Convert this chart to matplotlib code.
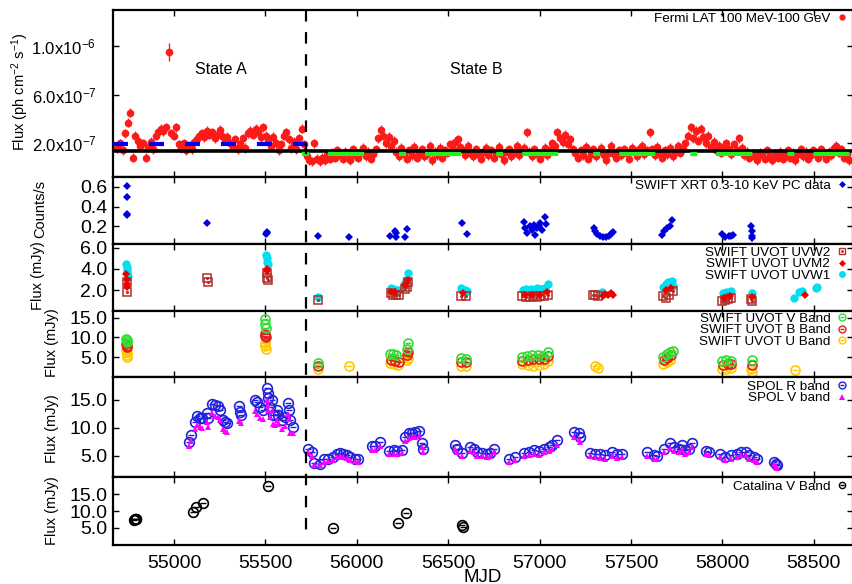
import numpy as np
import matplotlib
matplotlib.use("Agg")
import matplotlib.pyplot as plt
from matplotlib.lines import Line2D
import matplotlib.transforms as mtransforms

plt.rcParams['font.family'] = ['Liberation Sans', 'DejaVu Sans']
plt.rcParams['mathtext.fontset'] = 'custom'
plt.rcParams['mathtext.rm'] = 'Liberation Sans'
plt.rcParams['mathtext.default'] = 'regular'
plt.rcParams['lines.scale_dashes'] = False

# ---------------- DATA ----------------
# Fermi LAT 100 MeV-100 GeV, 14-day bins (flux in units of 1e-7 ph cm^-2 s^-1)
FERMI_START = 54690
FERMI_BIN = 14
fermi_flux_A = [1.6, 2.0, 1.4, 2.8, 3.7, 4.5, 0.8, 2.6, 2.2, 1.8,
                2.0, 0.8, 1.7, 2.1, 1.5, 2.6, 2.9, 3.2, 3.0, 3.3,
                9.5, 2.8, 2.6, 3.3, 1.9, 1.6, 2.0, 1.4, 1.8, 1.5,
                2.1, 2.3, 2.6, 2.8, 2.5, 3.0, 2.7, 2.9, 2.4, 2.7,
                3.1, 2.6, 2.2, 2.5, 2.0, 1.7, 2.3, 1.5, 1.9, 2.4,
                1.6, 2.8, 3.0, 2.7, 3.2, 2.9, 2.5, 3.3, 2.6, 2.2,
                1.8, 2.5, 2.0, 1.4, 1.9, 2.6, 2.9, 2.3, 1.6, 2.1,
                1.5, 2.4, 3.2, 1.9]
fermi_flux_B = [0.9, 0.6, 0.5, 2.0, 0.7, 0.5, 0.8, 0.6, 1.0, 0.7,
                1.2, 0.8, 1.4, 1.0, 0.7, 1.3, 1.1, 0.6, 1.5, 1.0,
                0.8, 1.2, 1.6, 0.9, 1.3, 0.7, 1.1, 1.5,
                2.4, 3.1, 2.6, 2.0, 2.5, 1.8, 2.2,
                1.3, 0.9, 1.6, 1.1, 0.7, 1.4, 1.0, 1.7, 0.8, 1.2,
                1.5, 0.9, 1.1, 1.8, 0.6, 1.3, 1.0, 1.6, 0.8, 1.4,
                1.2, 1.9, 1.5, 2.1, 2.3, 1.7, 1.4, 1.0, 1.8, 1.2,
                0.9, 1.5, 1.1, 0.7, 1.3, 1.6, 1.0, 1.4, 0.8, 1.2,
                1.7, 1.1, 0.6, 1.3, 1.5, 0.9, 1.2, 1.8, 1.0, 1.4,
                1.6, 2.9, 1.3, 0.9, 1.5, 1.1, 0.7, 1.2, 1.6, 1.0,
                1.4, 2.0, 1.8, 2.9, 2.4, 2.1, 2.7, 1.9, 2.3, 1.5,
                1.2, 0.8, 1.4, 1.0, 1.7, 0.7, 1.1, 1.5, 0.9, 1.3,
                1.6, 1.0, 0.6, 1.2, 1.8, 1.1, 0.8, 1.4, 1.0, 1.5,
                1.2, 0.7, 1.6, 1.3, 0.9, 1.5, 1.8, 1.1, 1.4, 2.9,
                1.5, 1.0, 1.7, 1.2, 0.8, 1.4, 1.1, 1.6, 0.9, 1.3,
                1.8, 1.2, 1.5, 2.0, 2.6, 3.3, 2.4, 3.0, 2.2, 3.2,
                2.5, 2.0, 2.6, 1.7, 2.1, 1.4, 1.8, 1.2, 1.6, 2.0,
                1.5, 1.1, 1.9, 1.4, 2.4, 1.6, 1.0, 1.3, 0.8, 1.1,
                0.9, 0.6, 1.2, 1.0, 0.7, 1.4, 0.9, 0.6, 1.1, 0.8,
                1.3, 0.7, 1.0, 1.4, 0.8, 1.2, 0.6, 1.1, 1.5, 0.9,
                1.3, 0.7, 1.0, 1.4, 1.2, 0.8, 1.5, 1.1, 0.7, 1.3,
                1.0, 1.6, 1.8, 1.2, 1.5, 0.8, 1.1, 0.6]
fermi_mean_all = 1.31      # black line
fermi_mean_A = 1.94        # blue dashes
fermi_mean_B = 1.06        # green dashes
STATE_SPLIT = 55720
mjd_min, mjd_max = 54666, 58715

# SWIFT XRT counts/s
xrt_mjd = [54741, 54741, 54741, 54741, 55182, 55505, 55508, 55511,
           55785, 55960, 56179, 56210, 56213, 56216, 56265, 56272,
           56575, 56602,
           56913, 56922, 56931, 56950, 56959, 56968, 56977, 56986, 56995, 57004, 57013, 57032, 57037,
           57296, 57305, 57316, 57333, 57349, 57366, 57382, 57393, 57404,
           57671, 57683, 57700, 57716, 57725,
           57999, 58017, 58034, 58050, 58061,
           58158, 58160, 58160, 58162]
xrt_rate = [0.605, 0.495, 0.325, 0.31, 0.233, 0.12, 0.14, 0.13,
            0.103, 0.09, 0.106, 0.157, 0.13, 0.09, 0.095, 0.17,
            0.233, 0.12,
            0.239, 0.18, 0.13, 0.198, 0.164, 0.215, 0.113, 0.18, 0.198, 0.233, 0.164, 0.294, 0.223,
            0.18, 0.154, 0.123, 0.103, 0.092, 0.092, 0.103, 0.123, 0.144,
            0.113, 0.147, 0.18, 0.198, 0.267,
            0.123, 0.092, 0.103, 0.103, 0.113,
            0.198, 0.147, 0.103, 0.085]

# SWIFT UVOT UV bands (mJy)
uvw2_mjd = [54742, 54744, 55180, 55184, 55507, 55510, 55512, 55785,
            56185, 56200, 56215, 56230, 56262, 56272, 56282, 56570, 56600,
            56905, 56925, 56945, 56965, 56985, 57005, 57025, 57045,
            57290, 57305, 57320, 57675, 57690, 57710, 57730,
            58000, 58015, 58030, 58050, 58158, 58162]
uvw2_flux = [2.8, 1.87, 3.13, 2.75, 3.6, 3.2, 2.97, 1.09,
             1.7, 1.6, 1.55, 1.58, 2.1, 2.3, 2.75, 1.5, 1.45,
             1.45, 1.4, 1.35, 1.42, 1.38, 1.45, 1.5, 1.6,
             1.6, 1.55, 1.5, 1.5, 1.25, 1.6, 1.9,
             1.0, 1.1, 1.2, 1.3, 1.2, 1.0]
uvm2_mjd = [54739, 54741, 54743, 54745, 55507, 55511,
            56185, 56210, 56265, 56278, 56580,
            56920, 56960, 57000, 57040,
            57345, 57360, 57375, 57390, 57400,
            57690, 57720, 58010, 58040, 58160, 58455]
uvm2_flux = [3.5, 3.0, 2.6, 2.3, 4.0, 3.8,
             1.85, 1.8, 2.5, 3.0, 1.7,
             1.55, 1.6, 1.6, 1.8,
             1.5, 1.65, 1.55, 1.7, 1.6,
             2.0, 2.2, 1.3, 1.45, 1.4, 1.56]
uvw1_mjd = [54738, 54740, 54742, 54744, 54746, 55505, 55508, 55510, 55512, 55785,
            56185, 56200, 56215, 56225, 56260, 56270, 56280, 56570, 56590, 56605,
            56910, 56925, 56940, 56955, 56970, 56985, 57000, 57015, 57030, 57045,
            57340, 57675, 57690, 57705, 57715, 57725, 57732,
            58005, 58020, 58035, 58050, 58160,
            58391, 58419, 58437, 58510, 58516]
uvw1_flux = [4.5, 4.2, 3.9, 3.6, 3.3, 5.3, 5.0, 4.7, 4.5, 1.4,
             2.2, 2.1, 2.05, 2.0, 2.6, 3.0, 3.6, 2.2, 2.05, 1.95,
             2.0, 2.1, 2.0, 2.15, 2.05, 2.2, 2.1, 2.15, 2.2, 2.6,
             1.8, 2.3, 2.6, 2.8, 2.5, 2.9, 2.4,
             1.7, 1.8, 1.85, 1.9, 1.75,
             1.25, 1.87, 1.93, 2.19, 2.34]

# SWIFT UVOT optical bands (mJy)
uv_v_mjd = [54739, 54741, 54743, 55497, 55499, 55501, 55785,
            56180, 56200, 56215, 56275, 56280, 56570, 56600,
            56905, 56930, 56960, 56990, 57020, 57045,
            57675, 57695, 57715, 57730, 58000, 58020, 58045, 58160]
uv_v_flux = [9.7, 9.3, 8.9, 14.6, 13.5, 12.3, 3.55,
             5.9, 5.7, 5.5, 7.0, 8.5, 4.7, 4.6,
             5.0, 5.3, 5.5, 5.6, 5.4, 6.3,
             5.0, 5.8, 6.4, 6.6, 4.0, 4.2, 4.1, 4.2]
uv_b_mjd = [54739, 54741, 54743, 55497, 55500, 55502, 55785,
            56185, 56210, 56230, 56275, 56280, 56570, 56600,
            56905, 56935, 56965, 56995, 57025, 57045,
            57680, 57700, 57720, 58005, 58030, 58050, 58160]
uv_b_flux = [8.4, 7.9, 7.5, 11.0, 10.4, 10.0, 2.8,
             4.4, 4.0, 3.8, 5.5, 6.2, 3.8, 3.7,
             4.0, 4.3, 4.5, 4.6, 4.5, 5.2,
             4.2, 4.8, 5.5, 3.0, 3.3, 3.4, 3.1]
uv_u_mjd = [54738, 54740, 54742, 54744, 55496, 55499, 55502, 55785, 55960,
            56180, 56205, 56225, 56275, 56280, 56570, 56600,
            56905, 56935, 56965, 56995, 57025, 57045, 57305, 57320,
            57675, 57695, 57715, 58000, 58020, 58045, 58158, 58162, 58400]
uv_u_flux = [6.8, 6.2, 5.6, 5.1, 8.5, 7.8, 7.2, 1.95, 2.8,
             3.5, 3.2, 3.0, 4.2, 4.7, 2.9, 2.8,
             3.2, 3.0, 2.8, 3.0, 3.2, 4.0, 2.9, 2.3,
             3.3, 3.7, 4.2, 2.1, 1.9, 2.2, 2.0, 1.3, 1.7]

# SPOL R and V band (mJy)
spol_mjd = [55084, 55091, 55115, 55128, 55142, 55152, 55179, 55188, 55210, 55225,
            55243, 55250, 55267, 55279, 55289, 55358, 55361, 55365, 55444, 55453,
            55471, 55489, 55508, 55513, 55516, 55526, 55535, 55540, 55553, 55562,
            55571, 55590, 55608, 55626, 55630, 55635, 55653,
            55735, 55754, 55767, 55800, 55818, 55845, 55872, 55891, 55909, 55927,
            55946, 55964, 55991, 56009, 56083, 56101, 56128, 56174, 56201, 56220,
            56247, 56265, 56283, 56302, 56320, 56338, 56356, 56362, 56539, 56548,
            56575, 56621, 56639, 56658, 56685, 56712, 56730, 56748, 56831, 56867,
            56913, 56940, 56968, 56995, 57022, 57050, 57068, 57096, 57187, 57214,
            57223, 57278, 57305, 57333, 57360, 57397, 57424, 57452, 57589, 57625,
            57643, 57679, 57716, 57734, 57762, 57780, 57798, 57816, 57835, 57908,
            57926, 57990, 58017, 58045, 58081, 58100, 58127, 58145, 58172, 58191,
            58282, 58291, 58301]
spol_r = [7.5, 8.7, 11.1, 12.1, 11.7, 11.7, 12.6, 11.7, 14.3, 14.1,
          13.9, 13.2, 11.4, 11.1, 10.8, 13.9, 12.9, 12.3, 15.0, 14.7,
          13.8, 13.2, 17.1, 16.2, 15.3, 13.8, 15.0, 12.3, 12.3, 13.2,
          12.3, 11.4, 12.0, 14.4, 13.2, 11.4, 10.2,
          6.3, 5.7, 3.7, 3.6, 4.35, 4.5, 4.7, 5.4, 5.5, 5.3,
          5.1, 4.8, 4.5, 4.35, 6.7, 6.7, 7.5, 5.9, 6.0, 5.9,
          6.1, 8.4, 9.0, 9.1, 9.3, 9.5, 7.2, 6.3, 6.9, 6.3,
          5.5, 6.6, 6.3, 5.7, 5.5, 5.4, 5.5, 6.3, 4.35, 4.7,
          5.5, 5.7, 6.0, 5.9, 6.3, 6.6, 6.9, 7.8, 9.3, 9.0,
          8.4, 5.5, 5.4, 5.3, 5.1, 5.7, 5.3, 5.4, 5.7, 5.1,
          4.95, 6.3, 7.2, 6.6, 6.3, 6.9, 6.0, 6.3, 7.3, 5.9,
          5.7, 5.3, 4.8, 5.1, 5.3, 5.7, 5.7, 5.1, 4.7, 4.35,
          3.9, 3.6, 3.3]
spol_v = [6.8, 7.6, 9.8, 10.5, 10.2, 10.0, 11.0, 10.1, 12.6, 12.2,
          12.0, 11.4, 9.8, 9.5, 9.2, 11.2, 11.2, 10.8, 13.0, 12.5,
          11.8, 11.5, 15.0, 14.0, 13.2, 12.0, 13.0, 10.6, 10.5, 11.4,
          10.6, 9.8, 10.3, 12.5, 11.5, 9.0, 9.0,
          5.6, 5.0, 3.3, 3.3, 3.9, 4.0, 4.2, 4.8, 4.9, 4.7,
          4.6, 4.3, 4.0, 3.9, 6.0, 6.0, 6.8, 5.3, 5.4, 5.3,
          5.5, 7.6, 8.2, 8.3, 8.4, 8.6, 6.5, 5.6, 6.2, 5.6,
          4.9, 5.9, 5.6, 5.0, 4.9, 4.8, 4.9, 5.6, 3.9, 4.2,
          4.9, 5.1, 5.3, 5.2, 5.6, 5.9, 6.2, 7.0, 8.4, 8.0,
          7.4, 4.9, 4.7, 4.6, 4.4, 5.0, 4.6, 4.7, 5.0, 4.5,
          4.4, 5.6, 6.4, 5.9, 5.6, 6.1, 5.3, 5.6, 6.5, 5.3,
          5.1, 4.7, 4.2, 4.5, 4.7, 5.1, 5.1, 4.5, 4.2, 3.9,
          3.5, 3.2, 2.9]

# Catalina V band (mJy)
cat_mjd = [54782, 54786, 54790, 54794, 55102, 55120, 55157, 55513,
           55869, 56225, 56270, 56575, 56580]
cat_flux = [7.4, 7.5, 7.6, 7.5, 9.8, 11.3, 12.3, 17.6,
            5.0, 6.5, 9.3, 5.8, 5.3]

x_ticks = [55000, 55500, 56000, 56500, 57000, 57500, 58000, 58500]

# ---------------- FIGURE ----------------
W, H = 852, 584
fig = plt.figure(figsize=(W / 100, H / 100), dpi=100)

L = 113
AW = 740
panels_px = [(10, 177), (177, 244), (244, 311), (311, 377), (377, 477), (477, 545)]
axes = []
for (t, b) in panels_px:
    ax = fig.add_axes([L / W, 1 - b / H, AW / W, (b - t) / H])
    axes.append(ax)
ax1, ax2, ax3, ax4, ax5, ax6 = axes

for ax in axes:
    ax.set_xlim(mjd_min, mjd_max)
    ax.set_xticks(x_ticks)
    ax.tick_params(axis='both', direction='in', length=4, width=1,
                   top=True, right=True, labelsize=14, pad=4)
    ax.tick_params(axis='x', labelbottom=False)
    for s in ax.spines.values():
        s.set_linewidth(1.6)
ax6.tick_params(axis='x', labelbottom=True, pad=7)
fig.text(482.5 / W, 1 - 577 / H, 'MJD', fontsize=13.5, ha='center', va='center')

leg_kw = dict(loc='upper right', frameon=False, markerfirst=False,
              fontsize=9.7, handlelength=0.8, handletextpad=0.5,
              labelspacing=-0.08, borderpad=0, borderaxespad=0)

# ---- Panel 1: Fermi ----
fermi_flux = np.array(fermi_flux_A + fermi_flux_B)
fermi_mjd = FERMI_START + FERMI_BIN * np.arange(len(fermi_flux))
fermi_err = np.where(fermi_flux > 5, 0.75, 0.38)
ax1.errorbar(fermi_mjd, fermi_flux * 1e-7, yerr=fermi_err * 1e-7, fmt='o',
             color='#ff1a1a', ms=5.5, mew=0, elinewidth=1, capsize=1.5, zorder=2)
ax1.axhline(fermi_mean_all * 1e-7, color='black', lw=2.6, zorder=4)
ax1.plot([mjd_min, STATE_SPLIT], [fermi_mean_A * 1e-7] * 2, color='#0000ee',
         lw=3, ls=(0, (10.8, 15.1)), zorder=5, solid_capstyle='butt')
ax1.plot([55700, mjd_max], [fermi_mean_B * 1e-7] * 2, color='#22ee22',
         lw=3, ls=(0, (5, 13.7, 26, 25.2)), zorder=5)
ax1.set_ylim(-0.8e-7, 1.3e-6)
ax1.set_yticks([2e-7, 6e-7, 1e-6])
ax1.set_yticklabels([r'2.0x10$^{-7}$', r'6.0x10$^{-7}$', r'1.0x10$^{-6}$'], fontsize=12)
ax1.tick_params(axis='y', pad=12)
ax1.text(55257, 8.05e-7, 'State A', fontsize=11.5, ha='center', va='center')
ax1.text(56656, 8.05e-7, 'State B', fontsize=11.5, ha='center', va='center')
h = Line2D([], [], marker='o', ls='none', color='#ff1a1a', ms=3.5)
ax1.legend([h], ['Fermi LAT 100 MeV-100 GeV'], bbox_to_anchor=(0.993, 0.985), **leg_kw)

# ---- Panel 2: XRT ----
ax2.plot(xrt_mjd, xrt_rate, 'D', color='#0000dd', ms=4, mew=0)
ax2.set_ylim(0.02, 0.70)
ax2.set_yticks([0.2, 0.4, 0.6])
ax2.set_yticklabels(['0.2', '0.4', '0.6'])
h = Line2D([], [], marker='D', ls='none', color='#0000dd', ms=3.5, mew=0)
ax2.legend([h], ['SWIFT XRT 0.3-10 KeV PC data'], bbox_to_anchor=(0.993, 0.96), **leg_kw)

# ---- Panel 3: UVOT UV ----
brown = '#b0302a'
ax3.plot(uvw2_mjd, uvw2_flux, 's', mfc='none', mec=brown, ms=6, mew=1.1, zorder=2)
ax3.plot(uvw2_mjd, uvw2_flux, '.', color=brown, ms=2.5, zorder=2)
ax3.plot(uvm2_mjd, uvm2_flux, 'D', color='#ee0000', ms=4, mew=0, zorder=3)
ax3.plot(uvw1_mjd, uvw1_flux, 'o', color='#00e0f0', ms=6, mew=0, zorder=1)
ax3.set_ylim(0.05, 6.35)
ax3.set_yticks([2, 4, 6])
ax3.set_yticklabels(['2.0', '4.0', '6.0'])
hw2 = (Line2D([], [], marker='s', ls='none', mfc='none', mec=brown, ms=5, mew=1),
       Line2D([], [], marker='.', ls='none', color=brown, ms=2))
hm2 = Line2D([], [], marker='D', ls='none', color='#ee0000', ms=3.5, mew=0)
hw1 = Line2D([], [], marker='o', ls='none', color='#00e0f0', ms=5, mew=0)
ax3.legend([hw2, hm2, hw1], ['SWIFT UVOT UVW2', 'SWIFT UVOT UVM2', 'SWIFT UVOT UVW1'],
           bbox_to_anchor=(0.993, 0.96), **leg_kw)

# ---- Panel 4: UVOT optical ----
def ring(ax, x, y, c, ms=6.5, z=2):
    ax.plot(x, y, 'o', mfc='none', mec=c, ms=ms, mew=1.2, zorder=z)
    ax.plot(x, y, '_', color=c, ms=ms * 0.6, mew=1, zorder=z)

ring(ax4, uv_u_mjd, uv_u_flux, '#ffc800', z=1)
ring(ax4, uv_b_mjd, uv_b_flux, '#e02020', z=2)
ring(ax4, uv_v_mjd, uv_v_flux, '#33dd33', z=3)
ax4.set_ylim(0, 16.7)
ax4.set_yticks([5, 10, 15])
ax4.set_yticklabels(['5.0', '10.0', '15.0'])

def ring_handle(c, ms=5):
    return (Line2D([], [], marker='o', ls='none', mfc='none', mec=c, ms=ms, mew=1),
            Line2D([], [], marker='_', ls='none', color=c, ms=ms * 0.6, mew=1))

ax4.legend([ring_handle('#33dd33'), ring_handle('#e02020'), ring_handle('#ffc800')],
           ['SWIFT UVOT V Band', 'SWIFT UVOT B Band', 'SWIFT UVOT U Band'],
           bbox_to_anchor=(0.993, 0.975), **leg_kw)

# ---- Panel 5: SPOL ----
ring(ax5, spol_mjd, spol_r, '#2222dd', ms=7, z=2)
ax5.plot(spol_mjd, spol_v, '^', color='#ff00ff', ms=5, mew=0, zorder=3)
ax5.set_ylim(1.2, 19.1)
ax5.set_yticks([5, 10, 15])
ax5.set_yticklabels(['5.0', '10.0', '15.0'])
ax5.legend([ring_handle('#2222dd'),
            Line2D([], [], marker='^', ls='none', color='#ff00ff', ms=4.5, mew=0)],
           ['SPOL R band', 'SPOL V band'], bbox_to_anchor=(0.993, 0.965), **leg_kw)

# ---- Panel 6: Catalina ----
ring(ax6, cat_mjd, cat_flux, 'black', ms=7)
ax6.set_ylim(-0.2, 20.2)
ax6.set_yticks([5, 10, 15])
ax6.set_yticklabels(['5.0', '10.0', '15.0'])
ax6.legend([ring_handle('black', ms=4.5)], ['Catalina V Band'],
           bbox_to_anchor=(0.993, 0.95), **leg_kw)

# ---- y labels ----
def ylab(xpx, ypx, s, fs=10.5):
    fig.text(xpx / W, 1 - ypx / H, s, rotation=90, ha='center', va='center', fontsize=fs)

ylab(20, 92, r'Flux (ph cm$^{-2}$ s$^{-1}$)')
ylab(40, 209, 'Counts/s')
ylab(38, 276, 'Flux (mJy)')
ylab(52, 343, 'Flux (mJy)')
ylab(52, 429, 'Flux (mJy)')
ylab(52, 511, 'Flux (mJy)')

# ---- vertical dashed state separator ----
trans = mtransforms.blended_transform_factory(ax6.transData, fig.transFigure)
vline = Line2D([STATE_SPLIT, STATE_SPLIT], [1 - 10 / H, 1 - 540 / H], transform=trans,
               color='black', lw=1.6, ls=(0, (8.3, 7.6)), zorder=10)
fig.add_artist(vline)

fig.savefig('out.png', dpi=100)
